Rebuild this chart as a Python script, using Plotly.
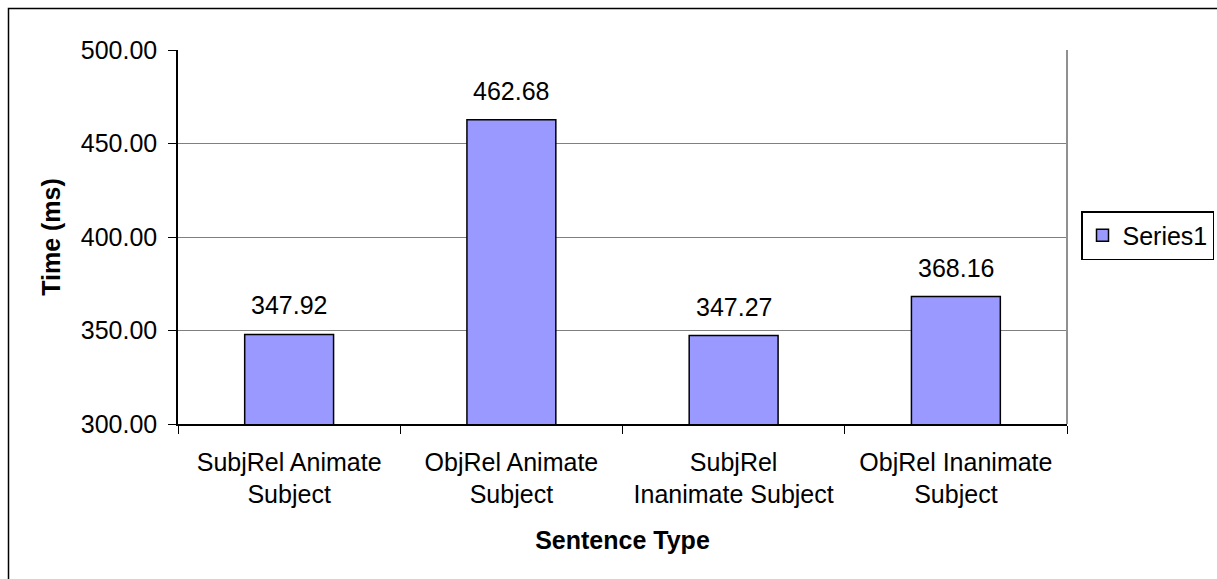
import plotly.graph_objects as go

# Mean reading time per sentence type
categories = [
    "SubjRel Animate<br>Subject",
    "ObjRel Animate<br>Subject",
    "SubjRel<br>Inanimate Subject",
    "ObjRel Inanimate<br>Subject",
]
times_ms = [347.92, 462.68, 347.27, 368.16]
y_ticks = [300, 350, 400, 450, 500]

W, H = 1217, 579
L, R, T, B = 178, 150, 50, 155
pw, ph = W - L - R, H - T - B

FONT = "Liberation Sans, Arial, sans-serif"
FS = 25

fig = go.Figure()
fig.add_trace(go.Bar(
    x=categories,
    y=times_ms,
    name="Series1",
    width=0.4,
    marker=dict(color="#9999FF", line=dict(color="black", width=1.5)),
))

# value labels above each bar
for c, v in zip(categories, times_ms):
    fig.add_annotation(
        x=c, y=v, text=f"{v:.2f}", showarrow=False,
        yanchor="bottom", yshift=13,
        font=dict(family=FONT, size=FS, color="black"),
    )

def px_x(p):
    return (p - L) / pw

def px_y(p):
    return (H - B - p) / ph

# outer chart frame
fig.add_shape(type="rect", xref="paper", yref="paper",
              x0=px_x(8.5), x1=px_x(W + 20), y0=px_y(H + 20), y1=px_y(8.5),
              line=dict(color="black", width=1.5), layer="below")
# plot-area right border
fig.add_shape(type="line", xref="paper", yref="paper",
              x0=1, x1=1, y0=0, y1=1,
              line=dict(color="#909090", width=2))

fig.update_layout(
    width=W, height=H,
    margin=dict(l=L, r=R, t=T, b=B, autoexpand=False),
    paper_bgcolor="white", plot_bgcolor="white",
    font=dict(family=FONT, size=FS, color="black"),
    bargap=0.6,
    showlegend=True,
    legend=dict(
        xref="container", yref="container",
        x=1081 / W, y=1 - 211 / H, xanchor="left", yanchor="top",
        bordercolor="black", borderwidth=1.5, bgcolor="white",
        font=dict(family=FONT, size=FS, color="black"),
    ),
    xaxis=dict(
        type="category",
        showgrid=False,
        showline=True, linecolor="black", linewidth=1.5,
        ticks="outside", tickson="boundaries", ticklen=8, tickcolor="black",
        ticklabelstandoff=15,
        tickfont=dict(family=FONT, size=FS, color="black"),
        title=dict(text="<b>Sentence Type</b>", standoff=24,
                   font=dict(family=FONT, size=FS, color="black")),
        automargin=False,
    ),
    yaxis=dict(
        range=[300, 500],
        tickvals=y_ticks,
        ticktext=[f"{t:.2f}" for t in y_ticks],
        showgrid=True, gridcolor="#808080", gridwidth=1,
        showline=True, linecolor="black", linewidth=1.5,
        ticks="outside", ticklen=8, tickcolor="black",
        ticklabelstandoff=6,
        zeroline=False,
        tickfont=dict(family=FONT, size=FS, color="black"),
        title=dict(text="<b>Time (ms)</b>", standoff=13,
                   font=dict(family=FONT, size=FS, color="black")),
        automargin=False,
    ),
)

fig.write_html("out.html")
